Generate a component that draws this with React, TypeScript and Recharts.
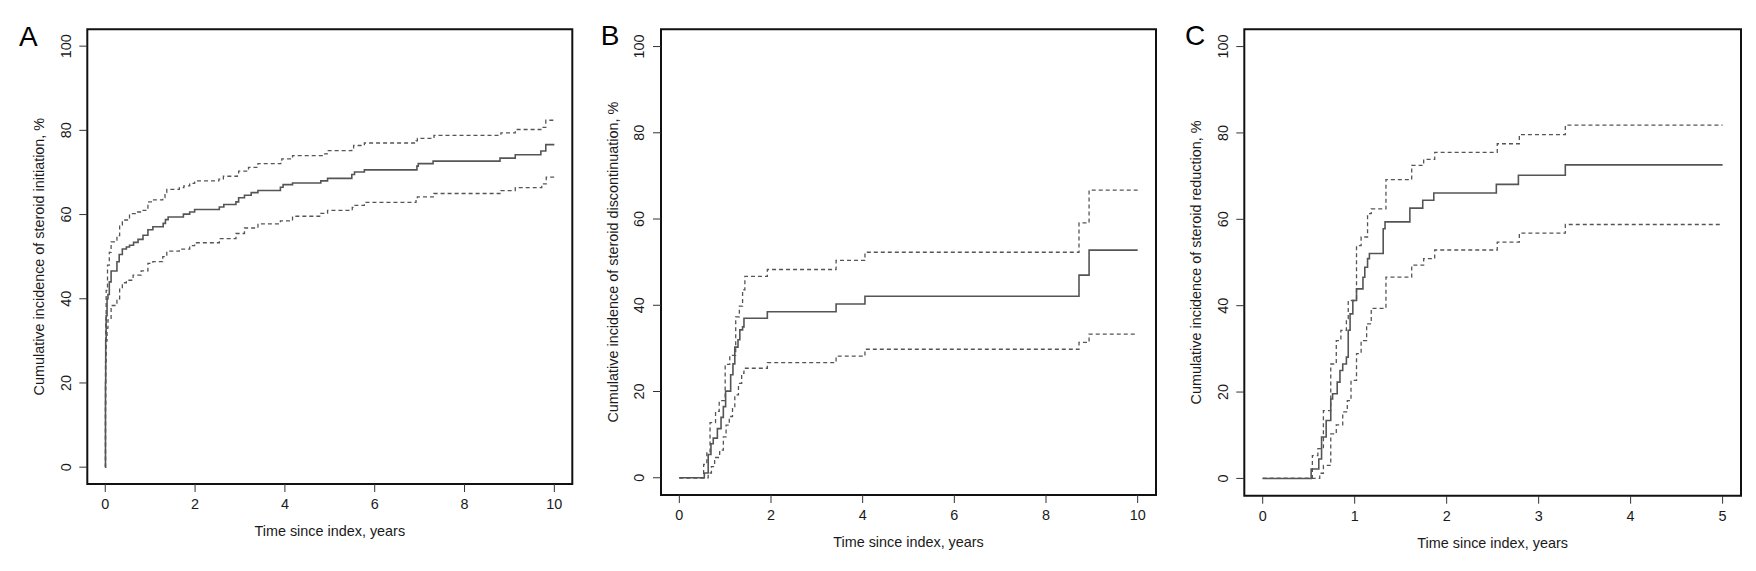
import { LineChart, Line, XAxis, YAxis, ReferenceArea } from "recharts";

type Pt = [number, number];

// tick values
const yTicks = [0, 20, 40, 60, 80, 100];
const xTicks10 = [0, 2, 4, 6, 8, 10];
const xTicks5 = [0, 1, 2, 3, 4, 5];

// A: steroid initiation (time in years, cumulative incidence %)
const aEst: Pt[] = [
  [0, 0], [0.005, 20], [0.01, 30], [0.02, 36], [0.04, 40], [0.06, 41], [0.09, 44], [0.13, 46.6],
  [0.26, 48.8], [0.31, 50.5], [0.38, 51.8], [0.47, 52.3], [0.54, 52.7], [0.63, 53.4], [0.73, 54.1],
  [0.84, 55.1], [0.95, 56.4], [1.06, 57.1], [1.29, 57.9], [1.34, 58.8], [1.4, 59.4], [1.74, 60.1],
  [1.88, 60.6], [1.99, 61.2], [2.54, 61.8], [2.64, 62.4], [2.91, 63.0], [2.97, 64.0], [3.1, 64.6],
  [3.25, 65.2], [3.4, 65.7], [3.9, 66.5], [3.96, 67.1], [4.17, 67.5], [4.8, 68.0], [4.95, 68.6],
  [5.49, 69.5], [5.55, 70.1], [5.77, 70.6], [6.94, 71.5], [6.97, 72.1], [7.3, 72.7], [8.79, 73.4],
  [9.13, 74.2], [9.7, 75.1], [9.81, 76.6], [10, 76.6],
];
const aUpper: Pt[] = [
  [0, 0], [0.005, 25], [0.01, 35], [0.02, 42], [0.05, 48], [0.09, 51], [0.13, 53.5], [0.26, 55],
  [0.32, 57.5], [0.38, 58.7], [0.54, 60.2], [0.72, 60.6], [0.8, 61], [0.95, 63], [1.06, 63.5],
  [1.28, 64], [1.33, 65.2], [1.37, 66], [1.65, 66.4], [1.75, 66.8], [1.88, 67.4], [1.99, 68],
  [2.53, 68.4], [2.63, 69.1], [2.94, 69.6], [2.97, 70.3], [3.19, 71.2], [3.4, 72.1], [3.91, 72.6],
  [3.93, 73.2], [4.17, 74], [4.83, 74.4], [4.94, 75.2], [5.49, 75.6], [5.53, 76.4], [5.77, 77],
  [6.92, 77.5], [6.95, 78.1], [7.32, 78.8], [8.81, 79.4], [9.13, 80.2], [9.7, 80.7], [9.81, 82.4],
  [10, 82.4],
];
const aLower: Pt[] = [
  [0, 0], [0.005, 15], [0.01, 25], [0.02, 30], [0.04, 33], [0.06, 35], [0.13, 38.4], [0.26, 40],
  [0.32, 42.5], [0.38, 43.8], [0.47, 44.4], [0.62, 45.6], [0.8, 46.6], [0.95, 48.4], [1.06, 48.8],
  [1.28, 50], [1.37, 51.3], [1.65, 51.8], [1.88, 52.6], [1.99, 53.3], [2.54, 54.3], [2.91, 55.5],
  [3.1, 56.8], [3.4, 57.8], [3.9, 58.5], [4.17, 59.6], [4.8, 60.3], [4.95, 61], [5.5, 61.7],
  [5.53, 62.2], [5.77, 62.9], [6.92, 63.6], [6.95, 64.2], [7.32, 65], [8.81, 65.7], [9.13, 66.4],
  [9.72, 67.3], [9.82, 68.9], [10, 68.9],
];

// B: steroid discontinuation
const bEst: Pt[] = [
  [0, 0], [0.545, 1.1], [0.63, 5.4], [0.69, 7.9], [0.74, 9.2], [0.83, 11.4], [0.91, 14], [0.96, 16.5],
  [1.01, 20.1], [1.12, 23.9], [1.17, 26.4], [1.21, 30.3], [1.28, 32], [1.32, 34.3], [1.38, 35],
  [1.41, 37], [1.92, 38.5], [3.42, 40.3], [4.05, 42.1], [8.72, 47], [8.94, 52.8], [10, 52.8],
];
const bUpper: Pt[] = [
  [0, 0], [0.53, 3.1], [0.6, 6], [0.67, 12.8], [0.79, 15.4], [0.87, 17.9], [1.0, 26.3], [1.1, 28.4],
  [1.23, 37.3], [1.31, 39.8], [1.38, 43.6], [1.43, 46.7], [1.92, 48.3], [3.42, 50.4], [4.05, 52.3],
  [8.72, 59.1], [8.94, 66.7], [10, 66.7],
];
const bLower: Pt[] = [
  [0, 0], [0.63, 1.1], [0.7, 2.6], [0.77, 4.7], [0.88, 6.4], [0.96, 9.5], [1.02, 12.2], [1.09, 14.2],
  [1.16, 16.5], [1.21, 19.2], [1.29, 21.9], [1.36, 24.2], [1.41, 25.4], [1.92, 26.7], [3.42, 28.2],
  [4.05, 29.8], [8.72, 31.4], [8.94, 33.3], [10, 33.3],
];

// C: steroid reduction
const cEst: Pt[] = [
  [0, 0], [0.527, 2.2], [0.61, 4.5], [0.64, 9.6], [0.69, 13.4], [0.74, 18.4], [0.76, 19.6],
  [0.81, 22.3], [0.84, 25], [0.87, 26.5], [0.91, 28.1], [0.93, 34.3], [0.95, 38.1], [0.98, 41.2],
  [1.02, 43.9], [1.09, 46.6], [1.11, 48.9], [1.14, 50.9], [1.16, 52.1], [1.31, 57.8], [1.33, 59.4],
  [1.6, 62.6], [1.74, 64.4], [1.86, 66.1], [2.54, 68.1], [2.78, 70.2], [3.29, 72.6], [5, 72.6],
];
const cUpper: Pt[] = [
  [0, 0], [0.54, 5.3], [0.6, 6.9], [0.66, 15.7], [0.74, 26.5], [0.8, 31.9], [0.85, 34.3], [0.91, 37],
  [0.93, 41.2], [1.02, 53.9], [1.07, 55.9], [1.14, 61.3], [1.18, 62.4], [1.34, 69.2], [1.62, 72.5],
  [1.75, 73.9], [1.87, 75.5], [2.55, 77.5], [2.79, 79.6], [3.29, 81.8], [5, 81.8],
];
const cLower: Pt[] = [
  [0, 0], [0.62, 1.2], [0.66, 3], [0.74, 10.3], [0.8, 12.4], [0.87, 15.4], [0.92, 18], [0.96, 22.7],
  [1.02, 28.9], [1.07, 31.9], [1.13, 35.8], [1.18, 39.4], [1.34, 46.6], [1.62, 49.4], [1.75, 50.9],
  [1.87, 52.9], [2.55, 54.7], [2.79, 56.8], [3.29, 58.8], [5, 58.8],
];

const FONT = 14.4;
const TEXT = "#1a1a1a";
const LINE = "#555";
const H = 571;
const Y_AXIS_W = 30;
const X_AXIS_H = 30;
const TICK = 8;

const toRows = (pts: Pt[]) => pts.map(([t, v]) => ({ t, v }));

const XTick = (props: any) => {
  const { x, y, payload } = props;
  return (
    <text x={x} y={y + 12} textAnchor="middle" dominantBaseline="central" fontSize={FONT} fill={TEXT}>
      {payload.value}
    </text>
  );
};

const YTick = (props: any) => {
  const { x, y, payload } = props;
  const cx = x - 13.6;
  return (
    <text
      x={cx}
      y={y}
      transform={`rotate(-90 ${cx} ${y})`}
      textAnchor="middle"
      dominantBaseline="central"
      fontSize={FONT}
      fill={TEXT}
    >
      {payload.value}
    </text>
  );
};

interface PanelProps {
  letter: string;
  letterX: number;
  letterY: number;
  yTitle: string;
  est: Pt[];
  lower: Pt[];
  upper: Pt[];
  xTicks: number[];
  divLeft: number;
  divWidth: number;
  plot: { left: number; right: number; top: number; bottom: number };
}

function Panel({ letter, letterX, letterY, yTitle, est, lower, upper, xTicks, divLeft, divWidth, plot }: PanelProps) {
  const xMax = xTicks[xTicks.length - 1];
  const xDom: [number, number] = [-0.04 * xMax, 1.04 * xMax];
  const yDom: [number, number] = [-4, 104];
  const margin = {
    left: plot.left - divLeft - Y_AXIS_W,
    right: divLeft + divWidth - plot.right,
    top: plot.top,
    bottom: H - plot.bottom - X_AXIS_H,
  };

  const xTitle = (p: any) => {
    const vb = p && p.viewBox;
    if (!vb) return null;
    return (
      <text x={vb.x + vb.width / 2} y={vb.y + 47} textAnchor="middle" dominantBaseline="central" fontSize={FONT} fill={TEXT}>
        Time since index, years
      </text>
    );
  };
  const yTitleLabel = (p: any) => {
    const vb = p && p.viewBox;
    if (!vb) return null;
    const cx = vb.x + vb.width - 48;
    const cy = vb.y + vb.height / 2;
    return (
      <text
        x={cx}
        y={cy}
        transform={`rotate(-90 ${cx} ${cy})`}
        textAnchor="middle"
        dominantBaseline="central"
        fontSize={FONT}
        fill={TEXT}
      >
        {yTitle}
      </text>
    );
  };

  return (
    <div style={{ position: "absolute", left: divLeft, top: 0, width: divWidth, height: H }}>
      <LineChart width={divWidth} height={H} margin={margin}>
        <XAxis
          dataKey="t"
          type="number"
          domain={xDom}
          allowDataOverflow
          ticks={xTicks}
          interval={0}
          axisLine={false}
          tickLine={{ stroke: "#333" }}
          tickSize={TICK}
          tickMargin={0}
          tick={XTick}
          height={X_AXIS_H}
          label={xTitle}
        />
        <YAxis
          type="number"
          domain={yDom}
          allowDataOverflow
          ticks={yTicks}
          interval={0}
          axisLine={false}
          tickLine={{ stroke: "#333" }}
          tickSize={TICK}
          tickMargin={0}
          tick={YTick}
          width={Y_AXIS_W}
          label={yTitleLabel}
        />
        <Line data={toRows(upper)} dataKey="v" type="stepAfter" stroke={LINE} strokeWidth={1.3} strokeDasharray="4 3" dot={false} isAnimationActive={false} />
        <Line data={toRows(lower)} dataKey="v" type="stepAfter" stroke={LINE} strokeWidth={1.3} strokeDasharray="4 3" dot={false} isAnimationActive={false} />
        <Line data={toRows(est)} dataKey="v" type="stepAfter" stroke={LINE} strokeWidth={1.6} dot={false} isAnimationActive={false} />
        <ReferenceArea x1={xDom[0]} x2={xDom[1]} y1={yDom[0]} y2={yDom[1]} fill="none" stroke="#111" strokeWidth={2} ifOverflow="visible" />
      </LineChart>
      <div
        style={{
          position: "absolute",
          left: letterX - divLeft,
          top: letterY,
          transform: "translate(-50%, -50%)",
          fontSize: 28,
          lineHeight: 1,
          color: "#000",
        }}
      >
        {letter}
      </div>
    </div>
  );
}

export default function App() {
  return (
    <div
      style={{
        position: "absolute",
        left: 0,
        top: 0,
        width: 1756,
        height: H,
        background: "#fff",
        fontFamily: "'Liberation Sans', Arial, Helvetica, sans-serif",
      }}
    >
      <Panel
        letter="A"
        letterX={28.3}
        letterY={36.7}
        yTitle="Cumulative incidence of steroid initiation, %"
        est={aEst}
        lower={aLower}
        upper={aUpper}
        xTicks={xTicks10}
        divLeft={0}
        divWidth={580}
        plot={{ left: 87.3, right: 572.3, top: 29.3, bottom: 484 }}
      />
      <Panel
        letter="B"
        letterX={610}
        letterY={35.5}
        yTitle="Cumulative incidence of steroid discontinuation, %"
        est={bEst}
        lower={bLower}
        upper={bUpper}
        xTicks={xTicks10}
        divLeft={590}
        divWidth={580}
        plot={{ left: 661, right: 1156, top: 29.3, bottom: 495 }}
      />
      <Panel
        letter="C"
        letterX={1195}
        letterY={36}
        yTitle="Cumulative incidence of steroid reduction, %"
        est={cEst}
        lower={cLower}
        upper={cUpper}
        xTicks={xTicks5}
        divLeft={1170}
        divWidth={586}
        plot={{ left: 1244.3, right: 1741, top: 29.3, bottom: 495.7 }}
      />
    </div>
  );
}
